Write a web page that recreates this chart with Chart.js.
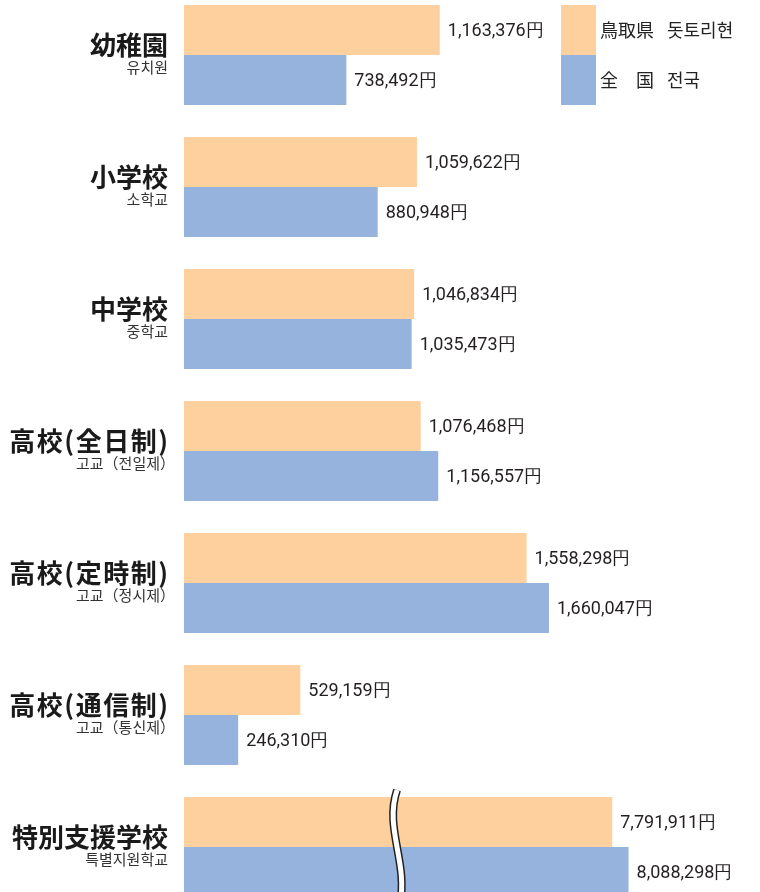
<!DOCTYPE html>
<html>
<head>
<meta charset="utf-8">
<script src="https://cdn.jsdelivr.net/npm/chart.js@4"></script>
<style>
  html, body { margin: 0; padding: 0; background: #ffffff; overflow: hidden; width: 760px; height: 892px; }
  #wrap { position: absolute; left: 0; top: -11px; width: 760px; height: 924px; }
</style>
</head>
<body>
<div id="wrap"><canvas id="c" width="760" height="924"></canvas></div>
<script>
// ---- data ----
const categories = ['幼稚園', '小学校', '中学校', '高校(全日制)', '高校(定時制)', '高校(通信制)', '特別支援学校'];
const categoriesKo = ['유치원', '소학교', '중학교', '고교（전일제）', '고교（정시제）', '고교（통신제）', '특별지원학교'];
const tottori = [1163376, 1059622, 1046834, 1076468, 1558298, 529159, 7791911];
const national = [738492, 880948, 1035473, 1156557, 1660047, 246310, 8088298];
const seriesNames = ['鳥取県', '全　国'];
const seriesNamesKo = ['돗토리현', '전국'];

// broken axis: the last category is drawn at a compressed scale
const BROKEN_INDEX = 6;
const BROKEN_SCALE = 0.25;
const BREAK_MARK_VALUE = 960000;

const ORANGE = '#fdd09d';
const BLUE = '#95b3dc';

function displayValues(arr) {
  return arr.map((v, i) => i === BROKEN_INDEX ? v * BROKEN_SCALE : v);
}
function fmt(v) { return v.toLocaleString('en-US') + '円'; }

const textPlugin = {
  id: 'textPlugin',
  afterDatasetsDraw(chart) {
    const ctx = chart.ctx;
    const xs = chart.scales.x, ys = chart.scales.y;
    const m0 = chart.getDatasetMeta(0), m1 = chart.getDatasetMeta(1);
    ctx.save();

    // break mark on the broken category
    const e0 = m0.data[BROKEN_INDEX], e1 = m1.data[BROKEN_INDEX];
    const bx = xs.getPixelForValue(BREAK_MARK_VALUE);
    const top = e0.y - e0.height / 2 - 7;
    const bot = e1.y + e1.height / 2 + 6;
    const drawWave = () => {
      ctx.beginPath();
      ctx.moveTo(bx + 2, top);
      ctx.bezierCurveTo(bx - 11, top + 38, bx + 13, top + 72, bx + 5, bot);
    };
    ctx.lineCap = 'butt';
    drawWave(); ctx.strokeStyle = '#222'; ctx.lineWidth = 8; ctx.stroke();
    drawWave(); ctx.strokeStyle = '#ffffff'; ctx.lineWidth = 5; ctx.stroke();

    // value labels
    ctx.font = '18px Roboto';
    ctx.fillStyle = '#231f20';
    ctx.textAlign = 'left';
    ctx.textBaseline = 'middle';
    [tottori, national].forEach((arr, d) => {
      chart.getDatasetMeta(d).data.forEach((el, i) => {
        ctx.fillText(fmt(arr[i]), el.x + 8, el.y + 1);
      });
    });

    // category labels
    ctx.textAlign = 'right';
    categories.forEach((c, i) => {
      const y = ys.getPixelForValue(i);
      const hasParen = c.indexOf('(') >= 0;
      ctx.font = 'bold 26px "Noto Sans CJK JP"';
      ctx.fillStyle = '#1a1a1a';
      ctx.letterSpacing = hasParen ? '1.5px' : '0px';
      ctx.fillText(c, hasParen ? 169.5 : 168, y - 10);
      ctx.letterSpacing = '0px';
      ctx.font = '15px "Noto Sans CJK KR"';
      ctx.fillStyle = '#333333';
      const ko = categoriesKo[i];
      const shift = ko.endsWith('）') ? 7 : 0;
      ctx.fillText(ko, 168 + shift, y + 12);
    });

    // legend
    const legendX = 561;
    [m0, m1].forEach((m, d) => {
      const el = m.data[0];
      ctx.fillStyle = d === 0 ? ORANGE : BLUE;
      ctx.fillRect(legendX, el.y - el.height / 2, 35, el.height);
      ctx.fillStyle = '#222';
      ctx.textAlign = 'left';
      ctx.font = '18px "Noto Sans CJK JP"';
      ctx.fillText(seriesNames[d], 600, el.y);
      ctx.font = '18px "Noto Sans CJK KR"';
      ctx.fillText(seriesNamesKo[d], 667, el.y);
    });

    ctx.restore();
  }
};

new Chart(document.getElementById('c'), {
  type: 'bar',
  data: {
    labels: categories,
    datasets: [
      { label: seriesNames[0], data: displayValues(tottori), backgroundColor: ORANGE, borderWidth: 0 },
      { label: seriesNames[1], data: displayValues(national), backgroundColor: BLUE, borderWidth: 0 }
    ]
  },
  options: {
    indexAxis: 'y',
    responsive: false,
    devicePixelRatio: 1,
    animation: false,
    layout: { padding: { left: 184, right: 0, top: 0, bottom: 0 } },
    datasets: { bar: { categoryPercentage: 100 / 132, barPercentage: 1 } },
    scales: {
      x: { display: false, min: 0, max: 2620000 },
      y: { display: false, offset: true }
    },
    plugins: { legend: { display: false }, tooltip: { enabled: false } }
  },
  plugins: [textPlugin]
});
</script>
</body>
</html>
